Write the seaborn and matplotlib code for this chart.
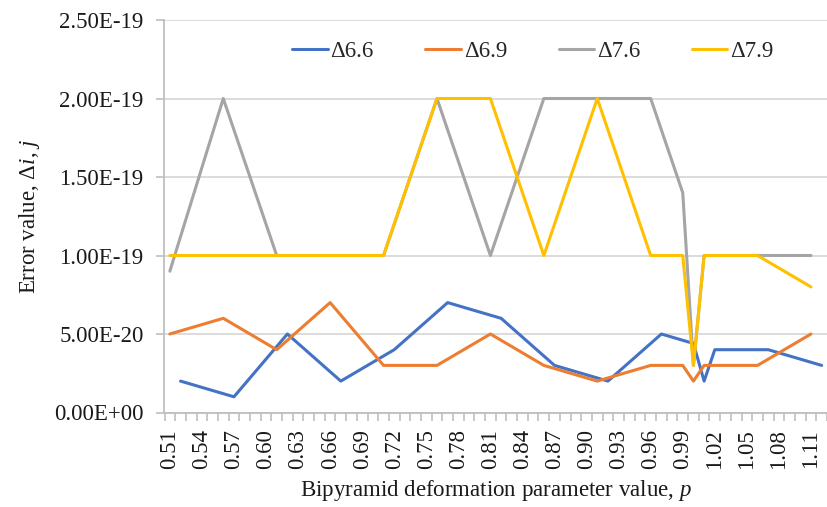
import numpy as np
import pandas as pd
import matplotlib
matplotlib.use("Agg")
import matplotlib.pyplot as plt
from matplotlib.ticker import FixedLocator, FuncFormatter
from matplotlib.lines import Line2D
import seaborn as sns

# ---- data ----
x_common = [0.51, 0.56, 0.61, 0.66, 0.71, 0.76, 0.81, 0.86, 0.91, 0.96, 0.99, 1.00, 1.01, 1.06, 1.11]
x_d66 = [0.52, 0.57, 0.62, 0.67, 0.72, 0.77, 0.82, 0.87, 0.92, 0.97, 1.00, 1.01, 1.02, 1.07, 1.12]
d66 = [2e-20, 1e-20, 5e-20, 2e-20, 4e-20, 7e-20, 6e-20, 3e-20, 2e-20, 5e-20, 4.4e-20, 2e-20, 4e-20, 4e-20, 3e-20]
d69 = [5e-20, 6e-20, 4e-20, 7e-20, 3e-20, 3e-20, 5e-20, 3e-20, 2e-20, 3e-20, 3e-20, 2e-20, 3e-20, 3e-20, 5e-20]
d76 = [0.9e-19, 2e-19, 1e-19, 1e-19, 1e-19, 2e-19, 1e-19, 2e-19, 2e-19, 2e-19, 1.4e-19, 0.3e-19, 1e-19, 1e-19, 1e-19]
d79 = [1e-19, 1e-19, 1e-19, 1e-19, 1e-19, 2e-19, 2e-19, 1e-19, 2e-19, 1e-19, 1e-19, 0.3e-19, 1e-19, 1e-19, 0.8e-19]
series_names = ["Δ6.6", "Δ6.9", "Δ7.6", "Δ7.9"]
colors = ["#4472C4", "#ED7D31", "#A5A5A5", "#FFC000"]
y_ticks = [0, 0.5e-19, 1.0e-19, 1.5e-19, 2.0e-19, 2.5e-19]
x_labels = [0.51, 0.54, 0.57, 0.60, 0.63, 0.66, 0.69, 0.72, 0.75, 0.78, 0.81,
            0.84, 0.87, 0.90, 0.93, 0.96, 0.99, 1.02, 1.05, 1.08, 1.11]

frames = []
for name, xs, ys in zip(series_names, [x_d66, x_common, x_common, x_common], [d66, d69, d76, d79]):
    frames.append(pd.DataFrame({"x": xs, "value": ys, "series": name}))
df = pd.concat(frames, ignore_index=True)

sns.set_theme(style="white")
plt.rcParams["font.family"] = ["Liberation Serif", "DejaVu Serif"]
plt.rcParams["mathtext.fontset"] = "custom"
plt.rcParams["mathtext.rm"] = "Liberation Serif"
plt.rcParams["mathtext.it"] = "Liberation Serif:italic"

FS = 16.5
TXT = "#1a1a1a"

fig = plt.figure(figsize=(8.28, 5.07), dpi=100)
ax = fig.add_axes([164.5 / 828, 1 - 412.5 / 507, (827 - 164.5) / 828, (412.5 - 20) / 507])

sns.lineplot(data=df, x="x", y="value", hue="series", hue_order=series_names,
             palette=colors, estimator=None, linewidth=2.2, ax=ax, legend=False)

ax.set_xlim(0.505, 1.125)
ax.set_ylim(0, 2.5e-19)

grid_c = "#D9D9D9"
axis_c = "#BFBFBF"
ax.set_yticks(y_ticks)
ax.yaxis.set_major_formatter(FuncFormatter(lambda v, p: f"{v:.2E}"))
ax.grid(axis="y", color=grid_c, linewidth=1.3)
ax.set_axisbelow(True)

ax.xaxis.set_major_locator(FixedLocator(x_labels))
ax.set_xticklabels([f"{v:.2f}" for v in x_labels], rotation=90)
minor = np.round(0.505 + 0.01 * np.arange(63), 3)
ax.xaxis.set_minor_locator(FixedLocator(minor))

ax.tick_params(axis="x", which="major", length=0, pad=12, labelsize=FS, colors=TXT)
ax.tick_params(axis="x", which="minor", length=6, width=1.2, color=axis_c, direction="out", bottom=True)
ax.tick_params(axis="y", which="major", length=6, width=1.2, color=axis_c, direction="out",
               left=True, pad=9, labelsize=FS, labelcolor=TXT)

for s in ["top", "right"]:
    ax.spines[s].set_visible(False)
for s in ["left", "bottom"]:
    ax.spines[s].set_color(axis_c)
    ax.spines[s].set_linewidth(1.3)

ax.set_xlabel(r"Bipyramid deformation parameter value, $\mathit{p}$", fontsize=FS, labelpad=6, color=TXT)
ax.set_ylabel(r"Error value, Δ$\mathit{i}$, $\mathit{j}$", fontsize=FS, labelpad=9, color=TXT)

handles = [Line2D([0], [0], color=c, linewidth=2.2) for c in colors]
ax.legend(handles, series_names, ncol=4, frameon=False, loc="upper center",
          bbox_to_anchor=(0.556, 1.0), fontsize=FS, handlelength=1.55,
          handletextpad=0.12, columnspacing=2.25)

fig.savefig("out.png", dpi=100)
